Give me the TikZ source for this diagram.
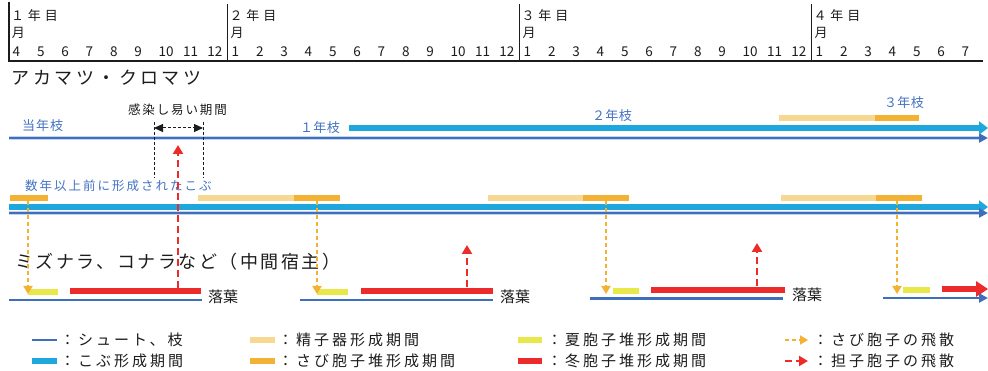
\documentclass[tikz,border=0pt]{standalone}
\usepackage{fontspec}
\setmainfont{Noto Sans CJK JP}
\usetikzlibrary{arrows.meta}
\definecolor{dblue}{HTML}{3F6EBC}
\definecolor{halo}{HTML}{C2D4EE}
\definecolor{lblue}{HTML}{1EA7DD}
\definecolor{lorange}{HTML}{F6D893}
\definecolor{rorange}{HTML}{F4B234}
\definecolor{yel}{HTML}{E9E84B}
\definecolor{rred}{HTML}{EE2B2B}
\definecolor{txtblue}{HTML}{4472C4}
\definecolor{txtgray}{HTML}{1C1C1C}
\newcommand{\jt}[3]{{\fontsize{#1}{#1}\selectfont\addfontfeature{LetterSpace=#2}#3}}
\begin{document}
\begin{tikzpicture}[x=1pt,y=-1pt,
  txt/.style={anchor=west,inner sep=0pt,outer sep=0pt,text=txtgray},
  btxt/.style={txt,text=txtblue},
  digit/.style={anchor=west,inner sep=0pt,font=\fontsize{13.5}{13.5}\selectfont,text=txtgray},
  shoot/.style={dblue,line width=2.5pt},
  shoothalo/.style={halo,line width=4.5pt},
  gall/.style={lblue,line width=5.5pt},
  spermo/.style={lorange,line width=5.5pt},
  aecia/.style={rorange,line width=5.5pt},
  ured/.style={yel,line width=5.5pt},
  telia/.style={rred,line width=6pt},
  aeciaspread/.style={rorange,line width=1.8pt,dash pattern=on 4pt off 3pt,-{Triangle[length=8pt,width=9pt]}},
  basidspread/.style={rred,line width=2.5pt,dash pattern=on 7pt off 4pt,-{Triangle[length=9pt,width=10pt]}},
  bluetip/.style={-{Triangle[length=9pt,width=9pt]}},
  gallTip/.style={-{Triangle[length=9pt,width=13pt]}},
]
\useasboundingbox (0,0) rectangle (988,371);
\fill[white] (0,0) rectangle (988,371);

% ---------- header ----------
\coordinate (hl0) at (9,2); \coordinate (hl1) at (9,62);
\draw[line width=2pt,txtgray] (hl0) -- (hl1);
\coordinate (hb0) at (8,61); \coordinate (hb1) at (983,61);
\draw[line width=2.2pt,txtgray] (hb0) -- (hb1);
\foreach \xx [count=\k] in {227.5,519.5,811.5} {
  \coordinate (v\k a) at (\xx,4); \coordinate (v\k b) at (\xx,62);
  \draw[line width=1.6pt,txtgray] (v\k a) -- (v\k b);
}
\node[txt] (y1) at (11,16) {\jt{13}{30}{１年目}};
\node[txt] (y2) at (229.5,16) {\jt{13}{30}{２年目}};
\node[txt] (y3) at (521.5,16) {\jt{13}{30}{３年目}};
\node[txt] (y4) at (813.5,16) {\jt{13}{30}{４年目}};
\foreach \xx [count=\k] in {12,230.5,522.5,814.5}
  \node[txt] (mo\k) at (\xx,33) {\jt{13}{0}{月}};
\foreach \m [count=\i from 0] in {4,5,6,7,8,9,10,11,12,1,2,3,4,5,6,7,8,9,10,11,12,1,2,3,4,5,6,7,8,9,10,11,12,1,2,3,4,5,6,7}
  \node[digit] (m\i) at ({12.5+24.333*\i},51.5) {\m};

% ---------- titles ----------
\node[txt] (t1) at (12,78) {\jt{18}{19}{アカマツ・クロマツ}};
\node[txt] (t2) at (15,262) {\jt{18}{14}{ミズナラ、コナラなど（中間宿主）}};

% ---------- row 1 ----------
\coordinate (r1s0) at (9,138); \coordinate (r1s1) at (988,138);
\draw[shoothalo] (r1s0) -- (980,138);
\draw[shoot,bluetip] (r1s0) -- (r1s1);
\coordinate (r1g0) at (349,128); \coordinate (r1g1) at (988,128);
\draw[gall,gallTip] (r1g0) -- (r1g1);
\coordinate (r1p0) at (779,118); \coordinate (r1p1) at (875,118); \coordinate (r1p2) at (919,118);
\draw[spermo] (r1p0) -- (r1p1);
\draw[aecia] (r1p1) -- (r1p2);
\node[btxt] (l0) at (22,126) {\jt{13}{8}{当年枝}};
\node[btxt] (l1) at (300,128) {\jt{13}{3}{１年枝}};
\node[btxt] (l2) at (592,116) {\jt{13}{3}{２年枝}};
\node[btxt] (l3) at (884,103) {\jt{13}{3}{３年枝}};

% infection period
\node[txt] (inf) at (128,110) {\jt{12.5}{15}{感染し易い期間}};
\coordinate (da0) at (154,122); \coordinate (da1) at (154,178);
\coordinate (db0) at (203,122); \coordinate (db1) at (203,178);
\draw[txtgray,line width=0.8pt,dash pattern=on 3pt off 2pt] (da0) -- (da1);
\draw[txtgray,line width=0.8pt,dash pattern=on 3pt off 2pt] (db0) -- (db1);
\coordinate (pa) at (154,128); \coordinate (pb) at (203,128);
\draw[txtgray,line width=1pt,dash pattern=on 3pt off 2pt,{Triangle[length=9pt,width=8pt]}-{Triangle[length=9pt,width=8pt]}] (pa) -- (pb);

% ---------- row 2 ----------
\node[btxt] (old) at (25,186) {\jt{12.5}{16}{数年以上前に形成されたこぶ}};
\coordinate (q0) at (10,198); \coordinate (q1) at (48,198);
\draw[aecia] (q0) -- (q1);
\foreach \a/\b/\c [count=\k] in {198/294/340,488/583/629,781/876/922} {
  \coordinate (sp\k a) at (\a,198); \coordinate (sp\k b) at (\b,198); \coordinate (sp\k c) at (\c,198);
  \draw[spermo] (sp\k a) -- (sp\k b);
  \draw[aecia] (sp\k b) -- (sp\k c);
}
\coordinate (r2g0) at (9,207); \coordinate (r2g1) at (988,207);
\draw[gall,gallTip] (r2g0) -- (r2g1);
\coordinate (r2s0) at (9,213); \coordinate (r2s1) at (988,213);
\draw[shoothalo] (r2s0) -- (980,213);
\draw[shoot,bluetip] (r2s0) -- (r2s1);

% ---------- alternate host row ----------
% group 1
\coordinate (u1a) at (28,292); \coordinate (u1b) at (58,292);
\draw[ured] (u1a) -- (u1b);
\coordinate (w1a) at (70,291); \coordinate (w1b) at (201,291);
\draw[telia] (w1a) -- (w1b);
\coordinate (s1a) at (9,300); \coordinate (s1b) at (202,300);
\draw[shoot] (s1a) -- (s1b);
\node[txt] (f1) at (208,297) {\jt{15}{0}{落葉}};
% group 2
\coordinate (u2a) at (317,292); \coordinate (u2b) at (348,292);
\draw[ured] (u2a) -- (u2b);
\coordinate (w2a) at (361,291); \coordinate (w2b) at (493,291);
\draw[telia] (w2a) -- (w2b);
\coordinate (s2a) at (300,300); \coordinate (s2b) at (493,300);
\draw[shoot] (s2a) -- (s2b);
\node[txt] (f2) at (500,297) {\jt{15}{0}{落葉}};
% group 3
\coordinate (u3a) at (613,291); \coordinate (u3b) at (639,291);
\draw[ured] (u3a) -- (u3b);
\coordinate (w3a) at (651,290); \coordinate (w3b) at (785,290);
\draw[telia] (w3a) -- (w3b);
\coordinate (s3a) at (590,298.5); \coordinate (s3b) at (783,298.5);
\draw[shoot] (s3a) -- (s3b);
\node[txt] (f3) at (792,295) {\jt{15}{0}{落葉}};
% group 4
\coordinate (u4a) at (903,290); \coordinate (u4b) at (930,290);
\draw[ured] (u4a) -- (u4b);
\coordinate (w4a) at (942,289); \coordinate (w4b) at (988,289);
\draw[telia,-{Triangle[length=12pt,width=15pt]}] (w4a) -- (w4b);
\coordinate (s4a) at (883,298); \coordinate (s4b) at (988,298);
\draw[shoot,bluetip] (s4a) -- (s4b);

% ---------- spore dispersal arrows ----------
\foreach \xx [count=\k] in {28,317,606,897} {
  \coordinate (ae\k a) at (\xx,201); \coordinate (ae\k b) at (\xx,294);
  \draw[aeciaspread] (ae\k a) -- (ae\k b);
}
\coordinate (ba1a) at (178,288); \coordinate (ba1b) at (178,145);
\draw[basidspread] (ba1a) -- (ba1b);
\coordinate (ba2a) at (467,287); \coordinate (ba2b) at (467,245);
\draw[basidspread] (ba2a) -- (ba2b);
\coordinate (ba3a) at (757,286); \coordinate (ba3b) at (757,243);
\draw[basidspread] (ba3a) -- (ba3b);

% ---------- legend ----------
\coordinate (lg1a) at (32,340); \coordinate (lg1b) at (57,340);
\draw[shoot] (lg1a) -- (lg1b);
\coordinate (lg2a) at (32,361); \coordinate (lg2b) at (57,361);
\draw[gall] (lg2a) -- (lg2b);
\coordinate (lg3a) at (250,340); \coordinate (lg3b) at (275,340);
\draw[spermo] (lg3a) -- (lg3b);
\coordinate (lg4a) at (250,361); \coordinate (lg4b) at (275,361);
\draw[aecia] (lg4a) -- (lg4b);
\coordinate (lg5a) at (518,340); \coordinate (lg5b) at (542,340);
\draw[ured] (lg5a) -- (lg5b);
\coordinate (lg6a) at (518,361); \coordinate (lg6b) at (542,361);
\draw[telia] (lg6a) -- (lg6b);
\coordinate (lg7a) at (785,340); \coordinate (lg7b) at (808,340);
\draw[aeciaspread] (lg7a) -- (lg7b);
\coordinate (lg8a) at (785,361); \coordinate (lg8b) at (808,361);
\draw[basidspread] (lg8a) -- (lg8b);

\node[txt] (lt1) at (60,340) {\jt{15}{20}{：シュート、枝}};
\node[txt] (lt2) at (60,361) {\jt{15}{20}{：こぶ形成期間}};
\node[txt] (lt3) at (278,340) {\jt{15}{20}{：精子器形成期間}};
\node[txt] (lt4) at (278,361) {\jt{15}{20}{：さび胞子堆形成期間}};
\node[txt] (lt5) at (547,340) {\jt{15}{20}{：夏胞子堆形成期間}};
\node[txt] (lt6) at (547,361) {\jt{15}{20}{：冬胞子堆形成期間}};
\node[txt] (lt7) at (813,340) {\jt{15}{20}{：さび胞子の飛散}};
\node[txt] (lt8) at (813,361) {\jt{15}{20}{：担子胞子の飛散}};
\end{tikzpicture}
\end{document}
